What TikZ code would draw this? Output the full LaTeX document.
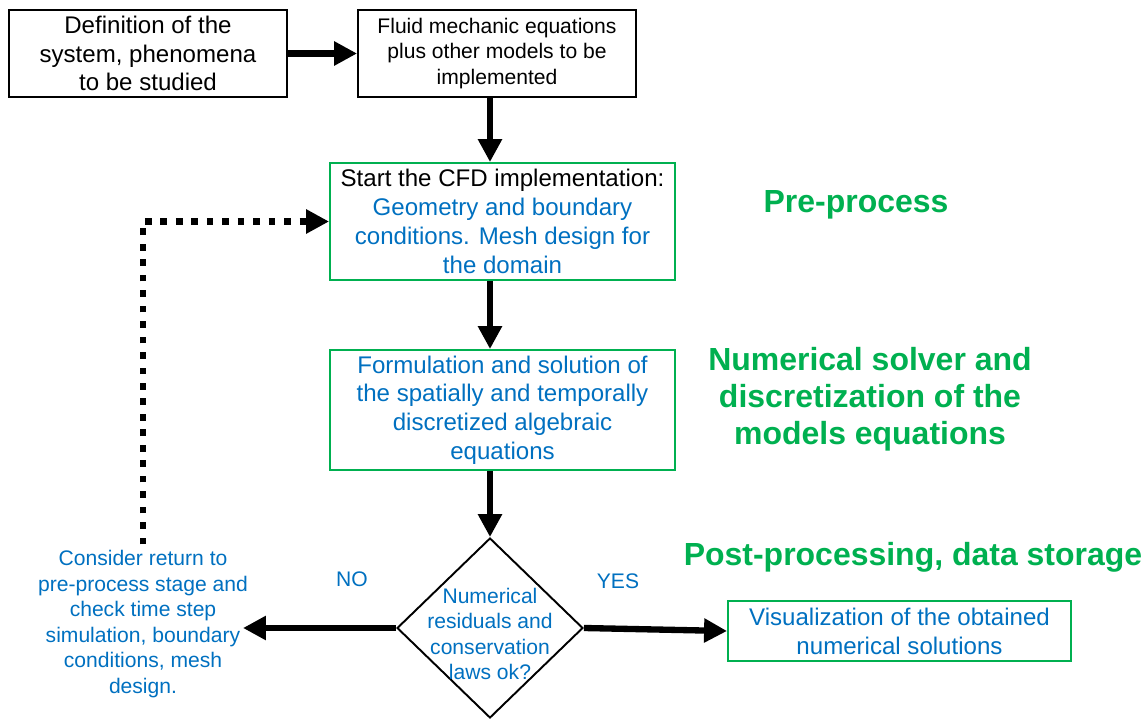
\documentclass[tikz,border=0pt]{standalone}
\usepackage{fontspec}
\setmainfont{Liberation Sans}
\usetikzlibrary{arrows.meta,shapes.geometric}
\definecolor{stagegreen}{RGB}{0,176,80}
\definecolor{textblue}{RGB}{0,112,192}
\newcommand{\bigtxt}{\fontsize{13.7}{16.4}\selectfont}
\newcommand{\midtxt}{\fontsize{12}{14.5}\selectfont}
\newcommand{\headtxt}{\fontsize{18.2}{21}\selectfont\bfseries}

\begin{document}
\begin{tikzpicture}[x=0.02cm,y=-0.02cm,
  blackbox/.style={draw,line width=1.1pt,align=center,inner sep=0pt},
  greenbox/.style={draw=stagegreen,line width=1.1pt,align=center,inner sep=0pt,text=textblue},
  stagelabel/.style={text=stagegreen,align=center,font=\headtxt},
  bluenote/.style={text=textblue,align=center,font=\midtxt},
  flow/.style={line width=3.6pt,-{Triangle[length=0.46cm,width=0.46cm]}},
  backflow/.style={line width=3.8pt,dash pattern=on 3.8pt off 5pt,-{Triangle[length=0.46cm,width=0.46cm]}}]
\useasboundingbox (0,0) rectangle (1147,720);

% boxes of the flow
\node[blackbox,minimum width=5.56cm,minimum height=1.74cm,font=\bigtxt] (defsys) at (148,53.5) {Definition of the\\system, phenomena\\to be studied};
\node[blackbox,minimum width=5.56cm,minimum height=1.74cm,font=\midtxt] (fluideq) at (497,53.5) {Fluid mechanic equations\\plus other models to be\\implemented};
\node[greenbox,minimum width=6.9cm,minimum height=2.34cm,font=\bigtxt] (cfdstart) at (502.5,221.5) {\textcolor{black}{Start the CFD implementation:}\\Geometry and boundary\\conditions. Mesh design for\\the domain};
\node[greenbox,minimum width=6.9cm,minimum height=2.4cm,font=\bigtxt] (solver) at (502.5,410) {Formulation and solution of\\the spatially and temporally\\discretized algebraic\\equations};
\node[draw,diamond,line width=1.1pt,minimum width=3.72cm,minimum height=3.6cm,inner sep=0pt] (check) at (490,628) {};
\node[bluenote] (checktxt) at (490,634) {Numerical\\residuals and\\conservation\\laws ok?};
\node[greenbox,minimum width=6.86cm,minimum height=1.2cm,font=\bigtxt] (visual) at (899.5,631) {Visualization of the obtained\\numerical solutions};
\node[bluenote] (recheck) at (143,624) {Consider return to\\pre-process stage and\\check time step\\simulation, boundary\\conditions, mesh\\design.};
\node[bluenote] (nolabel) at (352,579) {NO};
\node[bluenote] (yeslabel) at (618,581) {YES};

% stage names
\node[stagelabel] (preproc) at (856,205) {Pre-process};
\node[stagelabel] (numsolv) at (870,399) {Numerical solver and\\discretization of the\\models equations};
\node[stagelabel] (postproc) at (913,557) {Post-processing, data storage};

% arrows
\draw[flow] (defsys) -- (fluideq);
\draw[flow] (fluideq.south -| check.north) -- (cfdstart.north -| check.north);
\draw[flow] (cfdstart.south -| check.north) -- (solver.north -| check.north);
\draw[flow] (solver.south -| check.north) -- (check.north);
\draw[flow] (check.east) -- (visual.west);
\coordinate (noend) at (243,628);
\draw[flow] (check.west) -- (noend);
\draw[backflow] (recheck.north) |- (cfdstart.west);
\end{tikzpicture}
\end{document}
